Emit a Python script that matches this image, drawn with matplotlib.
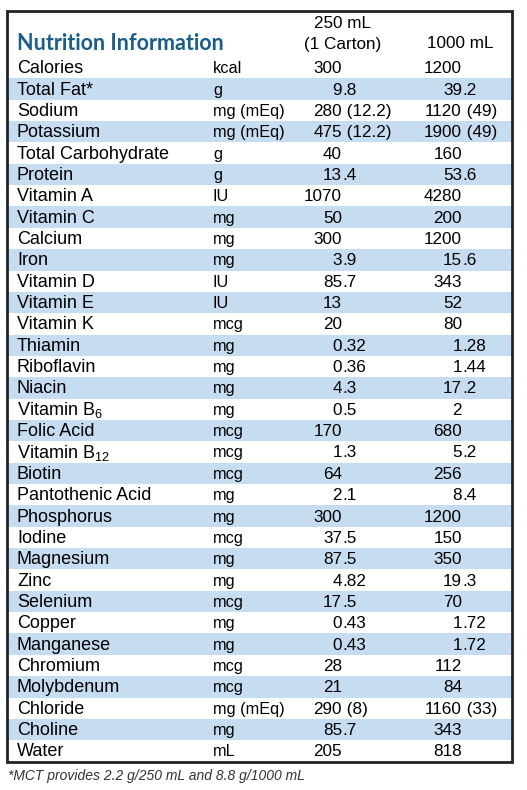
import matplotlib
matplotlib.use("Agg")
import matplotlib.pyplot as plt
from matplotlib.patches import Rectangle

plt.rcParams['font.family'] = ['Liberation Sans', 'DejaVu Sans']
plt.rcParams['mathtext.fontset'] = 'custom'
plt.rcParams['mathtext.rm'] = 'Liberation Sans'
plt.rcParams['mathtext.it'] = 'Liberation Sans'

names = ["Calories", "Total Fat*", "Sodium", "Potassium", "Total Carbohydrate", "Protein",
         "Vitamin A", "Vitamin C", "Calcium", "Iron", "Vitamin D", "Vitamin E", "Vitamin K",
         "Thiamin", "Riboflavin", "Niacin", "Vitamin B$_6$", "Folic Acid", "Vitamin B$_{12}$",
         "Biotin", "Pantothenic Acid", "Phosphorus", "Iodine", "Magnesium", "Zinc", "Selenium",
         "Copper", "Manganese", "Chromium", "Molybdenum", "Chloride", "Choline", "Water"]
units = ["kcal", "g", "mg (mEq)", "mg (mEq)", "g", "g", "IU", "mg", "mg", "mg", "IU", "IU", "mcg",
         "mg", "mg", "mg", "mg", "mcg", "mcg", "mcg", "mg", "mg", "mcg", "mg", "mg", "mcg",
         "mg", "mg", "mcg", "mcg", "mg (mEq)", "mg", "mL"]
per_250 = ["300", "9.8", "280 (12.2)", "475 (12.2)", "40", "13.4", "1070", "50", "300", "3.9",
           "85.7", "13", "20", "0.32", "0.36", "4.3", "0.5", "170", "1.3", "64", "2.1", "300",
           "37.5", "87.5", "4.82", "17.5", "0.43", "0.43", "28", "21", "290 (8)", "85.7", "205"]
per_1000 = ["1200", "39.2", "1120 (49)", "1900 (49)", "160", "53.6", "4280", "200", "1200", "15.6",
            "343", "52", "80", "1.28", "1.44", "17.2", "2", "680", "5.2", "256", "8.4", "1200",
            "150", "350", "19.3", "70", "1.72", "1.72", "112", "84", "1160 (33)", "343", "818"]

W, H = 527, 790
fig = plt.figure(figsize=(W / 100, H / 100), dpi=100)
ax = fig.add_axes([0, 0, 1, 1])
ax.set_xlim(0, W)
ax.set_ylim(H, 0)
ax.axis("off")

top, rh = 57, 21.35
fs = 13
for i, (n, u, a, b) in enumerate(zip(names, units, per_250, per_1000)):
    y0 = top + i * rh
    if i % 2 == 1:
        ax.add_patch(Rectangle((7, y0), 505, rh, color="#c6dcf0", lw=0))
    yc = y0 + rh / 2 + 1
    ax.text(17, yc, n, fontsize=fs, va="center")
    ax.text(213, yc, u, fontsize=fs * 0.9, va="center")
    for val, xd in ((a, 342), (b, 462)):
        cut = min([k for k in (val.find("."), val.find(" ")) if k >= 0], default=len(val))
        ax.text(xd, yc, val[:cut], fontsize=fs * 0.95, va="center", ha="right")
        ax.text(xd, yc, val[cut:], fontsize=fs * 0.95, va="center", ha="left")

ax.add_patch(Rectangle((7, 11), 505, top + 33 * rh - 11, fill=False, ec="#222222", lw=2))
ax.text(17, 43, "Nutrition Information", fontsize=15.5, fontweight="bold", color="#1b5e8c",
        family=["Lato", "DejaVu Sans"], va="center")
ax.text(343, 24, "250 mL", fontsize=fs * 0.95, ha="center", va="center")
ax.text(343, 44, "(1 Carton)", fontsize=fs * 0.95, ha="center", va="center")
ax.text(460, 44, "1000 mL", fontsize=fs * 0.95, ha="center", va="center")
ax.text(8, 776, "*MCT provides 2.2 g/250 mL and 8.8 g/1000 mL", fontsize=10,
        style="italic", va="center", color="#333333")

fig.savefig("out.png", dpi=100)
